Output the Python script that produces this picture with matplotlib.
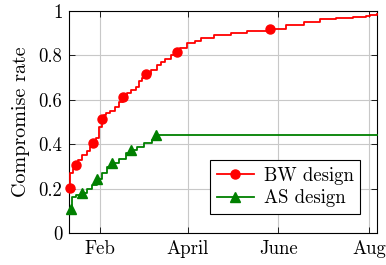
import matplotlib
matplotlib.use("Agg")
import matplotlib.pyplot as plt

# Day of year (2015), compromise rate
bw_days = [10.6, 11.0, 12.5, 14.6, 16.5, 19.0, 22.0, 24.5, 26.5, 28.5, 30.5, 32.5,
           33.5, 35.0, 38.0, 41.0, 44.0, 46.7, 49.0, 52.0, 55.0, 57.5, 59.5, 61.7,
           65.0, 69.0, 72.0, 75.0, 79.0, 82.9, 85.0, 89.5, 95.0, 99.0, 108.0, 119.0,
           130.0, 145.4, 156.0, 168.0, 179.0, 190.0, 201.0, 210.0, 213.0, 217.4]
bw_rate = [0.206, 0.27, 0.29, 0.309, 0.33, 0.35, 0.37, 0.39, 0.408, 0.43, 0.48, 0.513,
           0.53, 0.54, 0.55, 0.57, 0.59, 0.614, 0.63, 0.645, 0.66, 0.685, 0.70, 0.716,
           0.735, 0.755, 0.77, 0.785, 0.80, 0.817, 0.832, 0.855, 0.865, 0.877, 0.892, 0.902,
           0.911, 0.919, 0.937, 0.952, 0.964, 0.97, 0.973, 0.977, 0.982, 0.985]
bw_marks = [0, 3, 8, 11, 17, 23, 29, 37]

as_days = [11.5, 12.0, 15.0, 18.7, 22.5, 25.8, 28.8, 32.5, 35.9, 38.9, 43.8, 48.3,
           51.7, 56.0, 60.6, 66.2, 68.9, 217.4]
as_rate = [0.111, 0.164, 0.171, 0.182, 0.201, 0.216, 0.243, 0.269, 0.299, 0.314, 0.336, 0.359,
           0.375, 0.39, 0.404, 0.419, 0.443, 0.443]
as_marks = [0, 3, 6, 9, 12, 16]

tick_days = [31, 90, 151, 212]
tick_names = ["Feb", "April", "June", "Aug"]

plt.rcParams["font.family"] = "cmr10"
plt.rcParams["mathtext.fontset"] = "cm"
plt.rcParams["axes.formatter.use_mathtext"] = True

fig = plt.figure(figsize=(3.86, 2.65), dpi=100)
ax = fig.add_axes([0.1795, 0.1196, 0.7972, 0.839])

ax.plot(bw_days, bw_rate, drawstyle="steps-post", color="#ff0000", lw=1.3,
        marker="o", markersize=6.5, markevery=bw_marks, clip_on=False,
        label="BW design", zorder=3)
ax.plot(as_days, as_rate, drawstyle="steps-post", color="#008000", lw=1.3,
        marker="^", markersize=6.5, markevery=as_marks, clip_on=False,
        label="AS design", zorder=3)

ax.set_xlim(10.3, 217.4)
ax.set_ylim(0, 1)
ax.set_xticks(tick_days)
ax.set_xticklabels(tick_names)
ax.set_yticks([0, 0.2, 0.4, 0.6, 0.8, 1])
ax.set_yticklabels(["0", "0.2", "0.4", "0.6", "0.8", "1"])
ax.tick_params(direction="in", top=True, right=True, labelsize=13.5, length=4, width=0.6,
               pad=5)
ax.grid(True, color="#c8c8c8", lw=0.8)
ax.set_axisbelow(True)
for s in ax.spines.values():
    s.set_linewidth(0.8)
ax.set_ylabel("Compromise rate", fontsize=14.5, labelpad=6)

leg = ax.legend(loc="lower right", fontsize=13.5, fancybox=False, framealpha=1,
                edgecolor="black", handlelength=2.0, handletextpad=0.5, borderpad=0.35,
                labelspacing=0.25, bbox_to_anchor=(0.975, 0.045))
leg.get_frame().set_linewidth(0.8)

fig.savefig("out.png", dpi=100)
